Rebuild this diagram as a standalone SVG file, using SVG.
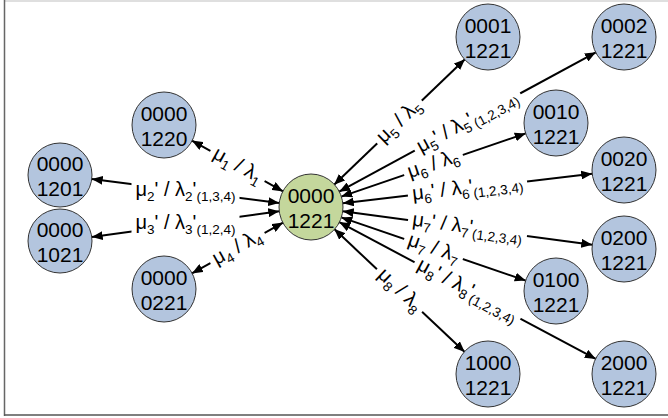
<svg xmlns="http://www.w3.org/2000/svg" width="668" height="418" viewBox="0 0 668 418">
<style>
.node{fill:#b3c5de;stroke:#333;stroke-width:1}
.center{fill:#c4d79c;stroke:#333;stroke-width:1}
.nt{font-family:"Liberation Sans",Arial,sans-serif;font-size:21px;fill:#000;text-anchor:middle}
.edge{stroke:#000;stroke-width:2;fill:none;marker-start:url(#ah);marker-end:url(#ah)}
.lbl{font-family:"Liberation Sans",Arial,sans-serif;font-size:20px;text-anchor:middle;fill:#000}
.s{font-size:13.5px}
.bg{fill:#fff;stroke:none}
</style>
<defs>
<marker id="ah" markerUnits="userSpaceOnUse" markerWidth="11" markerHeight="9" refX="11" refY="4.5" orient="auto-start-reverse">
<path d="M0,0 L11,4.5 L0,9 z" fill="#000"/>
</marker>
</defs>
<rect x="0" y="0" width="668" height="418" fill="#fff"/>
<line x1="4" y1="1" x2="668" y2="1" stroke="#d4d4d4" stroke-width="1.5"/>
<line x1="4.5" y1="0" x2="4.5" y2="416" stroke="#666" stroke-width="1.5"/>
<line x1="4" y1="415" x2="668" y2="415" stroke="#555" stroke-width="1.5"/>
<g id="connectors">
<line class="edge" x1="283.05" y1="191.41" x2="191.95" y2="140.59"/>
<line class="edge" x1="279.25" y1="203" x2="91.75" y2="178.9"/>
<line class="edge" x1="279.25" y1="211.2" x2="91.75" y2="237.1"/>
<line class="edge" x1="283.05" y1="222.59" x2="191.95" y2="273.41"/>
<line class="edge" x1="334.08" y1="184.83" x2="464.92" y2="59.17"/>
<line class="edge" x1="339.12" y1="191.73" x2="595.88" y2="52.27"/>
<line class="edge" x1="341.27" y1="196.62" x2="525.73" y2="133.38"/>
<line class="edge" x1="342.78" y1="203.24" x2="592.22" y2="173.76"/>
<line class="edge" x1="342.72" y1="211.26" x2="592.28" y2="244.74"/>
<line class="edge" x1="341.27" y1="217.38" x2="525.73" y2="280.62"/>
<line class="edge" x1="339.23" y1="222.06" x2="595.77" y2="358.94"/>
<line class="edge" x1="334.28" y1="228.96" x2="464.72" y2="352.04"/>
<g transform="translate(237.5,166) rotate(29.15)"><rect class="bg" x="-31" y="-5" width="62" height="10"/><text class="lbl" y="5">μ<tspan class="s" dy="5">1</tspan><tspan dy="-5"> / λ</tspan><tspan class="s" dy="5">1</tspan></text></g>
<g transform="translate(185.5,190.9)"><rect class="bg" x="-54" y="-11" width="108" height="22"/><text class="lbl" y="5">μ<tspan class="s" dy="5">2</tspan><tspan dy="-5">' / λ</tspan><tspan class="s" dy="5">2</tspan><tspan dy="-5">'</tspan><tspan class="s" dy="5">(1,3,4)</tspan></text></g>
<g transform="translate(185.5,224.1)"><rect class="bg" x="-54" y="-11" width="108" height="22"/><text class="lbl" y="5">μ<tspan class="s" dy="5">3</tspan><tspan dy="-5">' / λ</tspan><tspan class="s" dy="5">3</tspan><tspan dy="-5">'</tspan><tspan class="s" dy="5">(1,2,4)</tspan></text></g>
<g transform="translate(237.5,248) rotate(-29.15)"><rect class="bg" x="-31" y="-5" width="62" height="10"/><text class="lbl" y="5">μ<tspan class="s" dy="5">4</tspan><tspan dy="-5"> / λ</tspan><tspan class="s" dy="5">4</tspan></text></g>
<g transform="translate(399.5,122) rotate(-43.85)"><rect class="bg" x="-31" y="-5" width="62" height="10"/><text class="lbl" y="5">μ<tspan class="s" dy="5">5</tspan><tspan dy="-5"> / λ</tspan><tspan class="s" dy="5">5</tspan></text></g>
<g transform="translate(467.5,122) rotate(-28.5)"><rect class="bg" x="-60" y="-5" width="120" height="10"/><text class="lbl" y="5">μ<tspan class="s" dy="5">5</tspan><tspan dy="-5">' / λ</tspan><tspan class="s" dy="5">5</tspan><tspan dy="-5">'</tspan><tspan class="s" dy="5">(1,2,3,4)</tspan></text></g>
<g transform="translate(433.5,165) rotate(-18.92)"><rect class="bg" x="-31" y="-5" width="62" height="10"/><text class="lbl" y="5">μ<tspan class="s" dy="5">6</tspan><tspan dy="-5"> / λ</tspan><tspan class="s" dy="5">6</tspan></text></g>
<g transform="translate(467.5,188.5) rotate(-6.74)"><rect class="bg" x="-60" y="-5" width="120" height="10"/><text class="lbl" y="5">μ<tspan class="s" dy="5">6</tspan><tspan dy="-5">' / λ</tspan><tspan class="s" dy="5">6</tspan><tspan dy="-5">'</tspan><tspan class="s" dy="5">(1,2,3,4)</tspan></text></g>
<g transform="translate(467.5,228) rotate(7.64)"><rect class="bg" x="-60" y="-5" width="120" height="10"/><text class="lbl" y="5">μ<tspan class="s" dy="5">7</tspan><tspan dy="-5">' / λ</tspan><tspan class="s" dy="5">7</tspan><tspan dy="-5">'</tspan><tspan class="s" dy="5">(1,2,3,4)</tspan></text></g>
<g transform="translate(433.5,249) rotate(18.92)"><rect class="bg" x="-31" y="-5" width="62" height="10"/><text class="lbl" y="5">μ<tspan class="s" dy="5">7</tspan><tspan dy="-5"> / λ</tspan><tspan class="s" dy="5">7</tspan></text></g>
<g transform="translate(467.5,290.5) rotate(28.08)"><rect class="bg" x="-60" y="-5" width="120" height="10"/><text class="lbl" y="5">μ<tspan class="s" dy="5">8</tspan><tspan dy="-5">' / λ</tspan><tspan class="s" dy="5">8</tspan><tspan dy="-5">'</tspan><tspan class="s" dy="5">(1,2,3,4)</tspan></text></g>
<g transform="translate(399.5,290.5) rotate(43.33)"><rect class="bg" x="-31" y="-5" width="62" height="10"/><text class="lbl" y="5">μ<tspan class="s" dy="5">8</tspan><tspan dy="-5"> / λ</tspan><tspan class="s" dy="5">8</tspan></text></g>
</g>
<g id="n00001221"><ellipse class="center" cx="311" cy="207" rx="32" ry="33"/><text class="nt"><tspan x="311" y="203">0000</tspan><tspan x="311" y="228">1221</tspan></text></g>
<g id="n00001220"><ellipse class="node" cx="164" cy="125" rx="32" ry="33"/><text class="nt"><tspan x="164" y="121">0000</tspan><tspan x="164" y="146">1220</tspan></text></g>
<g id="n00001201"><ellipse class="node" cx="60" cy="175" rx="32" ry="32"/><text class="nt"><tspan x="60" y="171">0000</tspan><tspan x="60" y="196">1201</tspan></text></g>
<g id="n00001021"><ellipse class="node" cx="60" cy="241" rx="32" ry="32"/><text class="nt"><tspan x="60" y="237">0000</tspan><tspan x="60" y="262">1021</tspan></text></g>
<g id="n00000221"><ellipse class="node" cx="164" cy="289" rx="32" ry="33"/><text class="nt"><tspan x="164" y="285">0000</tspan><tspan x="164" y="310">0221</tspan></text></g>
<g id="n00011221"><ellipse class="node" cx="488" cy="37" rx="32" ry="33"/><text class="nt"><tspan x="488" y="33">0001</tspan><tspan x="488" y="58">1221</tspan></text></g>
<g id="n00021221"><ellipse class="node" cx="624" cy="37" rx="32" ry="33"/><text class="nt"><tspan x="624" y="33">0002</tspan><tspan x="624" y="58">1221</tspan></text></g>
<g id="n00101221"><ellipse class="node" cx="556" cy="123" rx="32" ry="33"/><text class="nt"><tspan x="556" y="119">0010</tspan><tspan x="556" y="144">1221</tspan></text></g>
<g id="n00201221"><ellipse class="node" cx="624" cy="170" rx="32" ry="33"/><text class="nt"><tspan x="624" y="166">0020</tspan><tspan x="624" y="191">1221</tspan></text></g>
<g id="n02001221"><ellipse class="node" cx="624" cy="249" rx="32" ry="33"/><text class="nt"><tspan x="624" y="245">0200</tspan><tspan x="624" y="270">1221</tspan></text></g>
<g id="n01001221"><ellipse class="node" cx="556" cy="291" rx="32" ry="33"/><text class="nt"><tspan x="556" y="287">0100</tspan><tspan x="556" y="312">1221</tspan></text></g>
<g id="n10001221"><ellipse class="node" cx="488" cy="374" rx="32" ry="33"/><text class="nt"><tspan x="488" y="370">1000</tspan><tspan x="488" y="395">1221</tspan></text></g>
<g id="n20001221"><ellipse class="node" cx="624" cy="374" rx="32" ry="33"/><text class="nt"><tspan x="624" y="370">2000</tspan><tspan x="624" y="395">1221</tspan></text></g>
</svg>
